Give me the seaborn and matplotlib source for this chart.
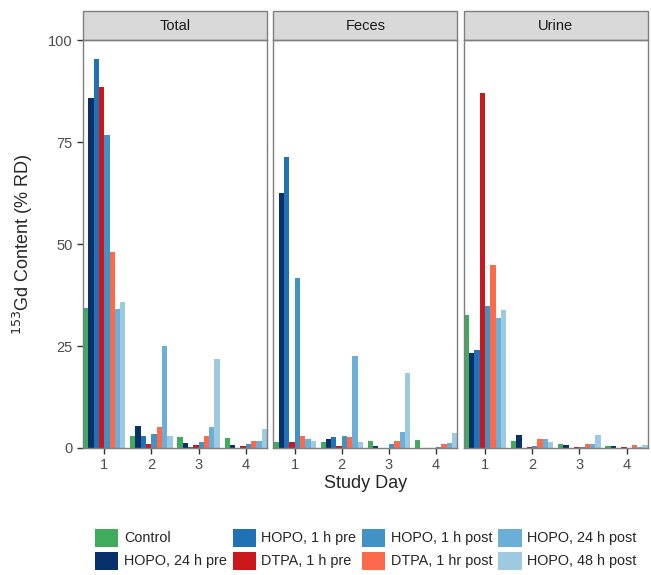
import numpy as np
import pandas as pd
import matplotlib
matplotlib.use('Agg')
import matplotlib.pyplot as plt
from matplotlib.patches import Rectangle, Patch
import seaborn as sns

sns.set_style('white')
plt.rcParams['font.family'] = ['Liberation Sans', 'DejaVu Sans']

# study days and groups
days = ['1', '2', '3', '4']
panels = ['Total', 'Feces', 'Urine']
treatments = ['Control', 'HOPO, 24 h pre', 'HOPO, 1 h pre', 'DTPA, 1 h pre',
              'HOPO, 1 h post', 'DTPA, 1 hr post', 'HOPO, 24 h post', 'HOPO, 48 h post']
colors = ['#41ab5d', '#08306b', '#2171b5', '#cb181d',
          '#4292c6', '#fb6a4a', '#6baed6', '#9ecae1']

# % RD per treatment, days 1..4
total_vals = [
    [34.3, 3.0, 2.6, 2.5],
    [85.9, 5.5, 1.3, 0.7],
    [95.5, 2.9, 0.2, 0.1],
    [88.5, 0.9, 0.6, 0.5],
    [76.7, 3.5, 1.4, 0.9],
    [48.0, 5.1, 2.9, 1.8],
    [34.1, 24.9, 5.1, 1.8],
    [35.7, 2.9, 21.8, 4.7],
]
feces_vals = [
    [1.5, 1.4, 1.6, 1.9],
    [62.6, 2.2, 0.5, 0.1],
    [71.3, 2.7, 0.1, 0.0],
    [1.4, 0.4, 0.1, 0.0],
    [41.7, 2.9, 0.9, 0.3],
    [2.9, 2.8, 1.6, 1.0],
    [2.1, 22.6, 3.8, 1.3],
    [1.7, 1.4, 18.5, 3.6],
]
urine_vals = [
    [32.7, 1.6, 0.9, 0.5],
    [23.3, 3.1, 0.7, 0.4],
    [24.1, 0.0, 0.0, 0.0],
    [87.0, 0.3, 0.2, 0.2],
    [34.9, 0.4, 0.2, 0.1],
    [44.9, 2.3, 1.0, 0.7],
    [31.9, 2.1, 1.0, 0.3],
    [33.9, 1.4, 3.1, 0.8],
]

rows = []
for sPanel, aVals in zip(panels, [total_vals, feces_vals, urine_vals]):
    for sTrt, aRow in zip(treatments, aVals):
        for sDay, v in zip(days, aRow):
            rows.append({'panel': sPanel, 'treatment': sTrt, 'day': sDay, 'value': v})
df = pd.DataFrame(rows)

palette = dict(zip(treatments, colors))

fig, axes = plt.subplots(1, 3, figsize=(6.51, 5.75), dpi=100, sharey=True)
fig.subplots_adjust(left=0.1275, right=0.995, top=0.930, bottom=0.221, wspace=0.035)

for ax, sPanel in zip(axes, panels):
    sub = df[df['panel'] == sPanel]
    sns.barplot(data=sub, x='day', y='value', hue='treatment', order=days,
                hue_order=treatments, palette=palette, width=0.9, errorbar=None,
                saturation=1, linewidth=0, legend=False, ax=ax)
    ax.set_xlim(-0.45, 3.45)
    ax.set_ylim(0, 100)
    ax.set_xlabel('')
    ax.set_ylabel('')
    for s in ax.spines.values():
        s.set_visible(True)
        s.set_color('#7f7f7f')
        s.set_linewidth(1.0)
    ax.tick_params(axis='both', which='both', direction='out', length=4, width=1,
                   color='#333333', labelsize=10.5, labelcolor='#4d4d4d',
                   bottom=True, left=(ax is axes[0]))
    # strip header
    ax.add_patch(Rectangle((0, 1.0), 1, 0.071, transform=ax.transAxes,
                           facecolor='#d9d9d9', edgecolor='#7f7f7f', linewidth=1.0,
                           clip_on=False))
    ax.text(0.5, 1.0355, sPanel, transform=ax.transAxes, ha='center', va='center',
            fontsize=10.5, color='#1a1a1a')

axes[0].set_yticks([0, 25, 50, 75, 100])

fig.text(0.562, 0.16, 'Study Day', ha='center', va='center', fontsize=13)
fig.text(0.035, 0.575, '$^{153}$Gd Content (% RD)', rotation=90,
         ha='center', va='center', fontsize=13)

handles = [Patch(facecolor=c, edgecolor='none', label=t) for t, c in zip(treatments, colors)]
fig.legend(handles=handles, ncol=4, loc='center', bbox_to_anchor=(0.562, 0.045),
           frameon=False, fontsize=10.4, handlelength=1.6, handleheight=1.55,
           handletextpad=0.4, columnspacing=0.4, labelspacing=0.35)

plt.savefig('out.png', dpi=100)
